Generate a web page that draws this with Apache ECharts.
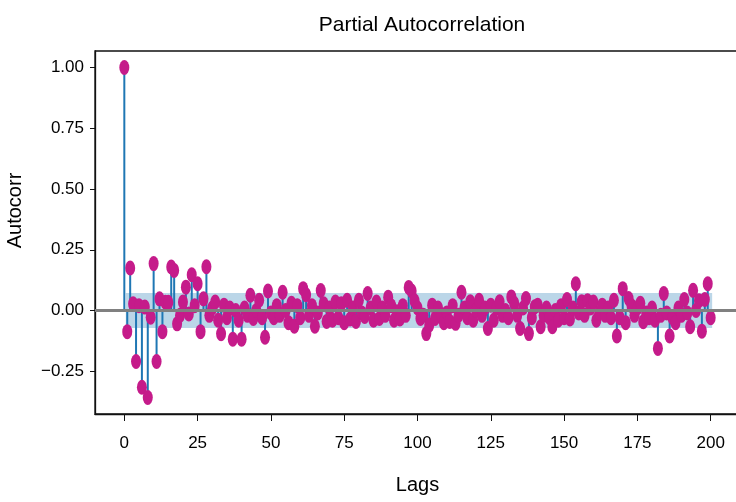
<!DOCTYPE html>
<html>
<head>
<meta charset="utf-8">
<script src="https://cdn.jsdelivr.net/npm/echarts@6/dist/echarts.min.js"></script>
<style>
  html, body { margin: 0; padding: 0; background: #fff; }
  #chart { width: 736px; height: 502px; }
</style>
</head>
<body>
<div id="chart"></div>
<script>
// ---- data ----
const titleText = 'Partial Autocorrelation';
const xAxisName = 'Lags';
const yAxisName = 'Autocorr';
const xTickValues = [0, 25, 50, 75, 100, 125, 150, 175, 200];
const yTickValues = [-0.25, 0, 0.25, 0.5, 0.75, 1.0];
const confLimit = 0.072;
const pacfValues = [
  1.0, -0.087, 0.175, 0.028, -0.21, 0.02, -0.316, 0.014, -0.358, -0.028,
  0.193, -0.21, 0.048, -0.087, 0.034, 0.034, 0.179, 0.165, -0.055, -0.02,
  0.035, 0.096, -0.014, 0.147, 0.02, 0.11, -0.087, 0.048, 0.18, -0.02,
  0.01, 0.035, -0.04, -0.096, 0.022, -0.03, 0.01, -0.118, 0.0, -0.04,
  -0.118, 0.01, -0.02, 0.063, -0.033, 0.0, 0.042, -0.03, -0.11, 0.08,
  -0.01, -0.03, 0.02, -0.02, 0.075, 0.0, -0.05, 0.03, -0.065, 0.02,
  -0.03, 0.09, 0.065, -0.02, 0.02, -0.065, -0.01, 0.082, 0.028, -0.045,
  0.01, -0.04, 0.035, -0.03, 0.028, -0.05, 0.042, -0.035, 0.01, -0.045,
  0.042, -0.01, -0.025, 0.07, 0.01, -0.04, 0.035, -0.033, 0.01, -0.02,
  0.055, 0.02, -0.04, -0.005, -0.035, 0.02, -0.02, 0.095, 0.08, 0.04,
  0.01, -0.033, -0.02, -0.095, -0.06, 0.022, -0.033, 0.01, -0.02, -0.05,
  -0.01, -0.045, 0.02, -0.053, -0.02, 0.075, 0.01, -0.03, 0.036, -0.04,
  0.0, 0.042, -0.02, 0.01, -0.074, 0.022, -0.04, 0.01, 0.036, -0.02,
  0.0, -0.03, 0.056, 0.03, -0.02, -0.074, 0.01, 0.049, -0.095, -0.03,
  0.015, 0.022, -0.067, -0.02, 0.01, -0.03, -0.067, 0.0, -0.04, 0.02,
  -0.03, 0.045, -0.035, 0.01, 0.11, -0.01, 0.036, -0.02, 0.04, 0.01,
  0.035, -0.04, -0.01, 0.022, -0.02, 0.01, -0.03, 0.042, -0.105, -0.03,
  0.09, -0.05, 0.049, 0.02, -0.02, 0.01, 0.03, -0.046, -0.01, -0.03,
  0.01, -0.04, -0.156, -0.02, 0.07, -0.01, -0.105, -0.03, -0.05, 0.01,
  -0.02, 0.045, -0.01, -0.067, 0.083, 0.0, 0.04, -0.085, 0.045, 0.11,
  -0.03
];
const lags = pacfValues.map((v, i) => i);

// ---- chart ----
const font = "'Liberation Sans', Arial, sans-serif";
const points = lags.map((l, i) => [l, pacfValues[i]]);
const ellipse = 'path://M0,50A50,50,0,1,1,100,50A50,50,0,1,1,0,50Z';

const chart = echarts.init(document.getElementById('chart'), null, { renderer: 'canvas' });
chart.setOption({
  animation: false,
  backgroundColor: '#ffffff',
  title: {
    text: titleText,
    left: 417,
    top: 10,
    textAlign: 'center',
    textStyle: { fontFamily: font, fontSize: 21, fontWeight: 'normal', color: '#000' }
  },
  grid: {
    left: 95, top: 51, right: -4, bottom: 88,
    outerBoundsMode: 'none',
    containLabel: false,
    show: true, borderColor: '#111', borderWidth: 1.3, backgroundColor: 'transparent'
  },
  xAxis: {
    type: 'value', min: -10, max: 210,
    name: xAxisName, nameLocation: 'middle', nameGap: 61,
    nameTextStyle: { fontFamily: font, fontSize: 20, color: '#000' },
    axisLine: { show: true, onZero: false, lineStyle: { color: '#111', width: 1.3 } },
    axisTick: { show: true, customValues: xTickValues, length: 7, lineStyle: { color: '#111' } },
    axisLabel: { customValues: xTickValues, margin: 21, fontFamily: font, fontSize: 17, color: '#000' },
    splitLine: { show: false }
  },
  yAxis: {
    type: 'value', min: -0.426, max: 1.068,
    name: yAxisName, nameLocation: 'middle', nameGap: 70, nameRotate: 90,
    nameTextStyle: { fontFamily: font, fontSize: 20, color: '#000', padding: [0, 0, 0, 44] },
    axisLine: { show: true, onZero: false, lineStyle: { color: '#111', width: 1.3 } },
    axisTick: { show: true, customValues: yTickValues, length: 5, lineStyle: { color: '#111' } },
    axisLabel: {
      customValues: yTickValues, margin: 11, fontFamily: font, fontSize: 17, color: '#000',
      formatter: v => (v < 0 ? '\u2212' : '') + Math.abs(v).toFixed(2)
    },
    splitLine: { show: false }
  },
  series: [
    {
      type: 'bar',
      data: points,
      barWidth: 2,
      itemStyle: { color: '#1f77b4' },
      z: 2,
      markArea: {
        silent: true,
        itemStyle: { color: 'rgba(31,119,180,0.3)' },
        data: [[{ xAxis: 0.5, yAxis: -confLimit }, { xAxis: 200.5, yAxis: confLimit }]]
      }
    },
    {
      type: 'scatter',
      data: points,
      symbol: ellipse,
      symbolSize: [10, 15],
      itemStyle: { color: '#c51b8a', opacity: 1 },
      z: 3,
      markLine: {
        silent: true,
        symbol: 'none',
        label: { show: false },
        lineStyle: { color: '#808080', width: 3, type: 'solid' },
        data: [{ yAxis: 0 }],
        z: 10
      }
    }
  ]
});
</script>
</body>
</html>
